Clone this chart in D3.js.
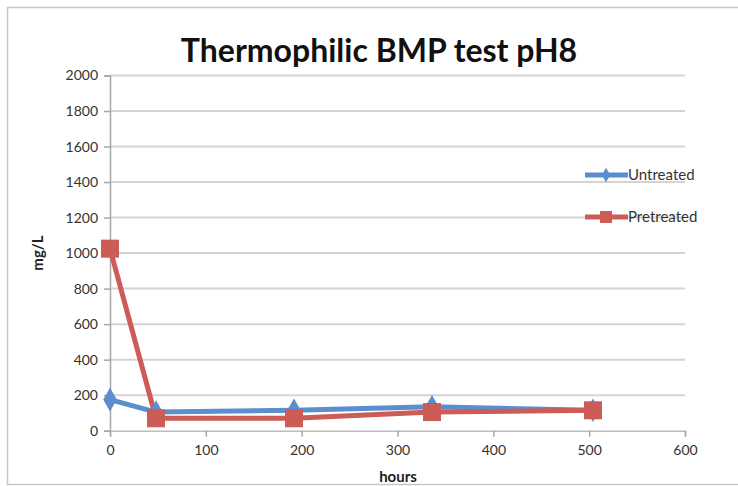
<!DOCTYPE html>
<html><head><meta charset="utf-8">
<script src="https://cdn.jsdelivr.net/npm/d3@7"></script>
<style>body{margin:0;background:#fff;}svg{display:block;}</style>
</head><body>
<script>
const hours = [0, 48, 192, 336, 504];
const untreated = [175, 105, 115, 135, 115];
const pretreated = [1025, 70, 70, 105, 115];
const seriesNames = ["Untreated", "Pretreated"];
const xTicks = [0, 100, 200, 300, 400, 500, 600];
const yTicks = [0, 200, 400, 600, 800, 1000, 1200, 1400, 1600, 1800, 2000];

const W = 738, H = 486;
const svg = d3.select("body").append("svg").attr("width", W).attr("height", H);
svg.append("rect").attr("x", 7.5).attr("y", 7.5).attr("width", W).attr("height", H - 9)
  .attr("fill", "#fff").attr("stroke", "#c8c8c8").attr("stroke-width", 1.5);

const x = d3.scaleLinear().domain([0, 600]).range([110, 685]);
const y = d3.scaleLinear().domain([0, 2000]).range([430.7, 75.5]);
const font = "Lato, 'Open Sans', sans-serif";

// gridlines
svg.append("g").selectAll("line").data(yTicks.filter(d => d > 0)).join("line")
  .attr("x1", x(0)).attr("x2", x(600)).attr("y1", d => y(d)).attr("y2", d => y(d))
  .attr("stroke", "#d4d4d4").attr("stroke-width", 2);

const yAxis = svg.append("g").attr("transform", `translate(${x(0)},0)`)
  .call(d3.axisLeft(y).tickValues(yTicks).tickFormat(d3.format("d")).tickSize(6).tickPadding(6));
const xAxis = svg.append("g").attr("transform", `translate(0,${y(0)})`)
  .call(d3.axisBottom(x).tickValues(xTicks).tickFormat(d3.format("d")).tickSize(6).tickPadding(8));
[yAxis, xAxis].forEach(a => {
  a.selectAll("path,line").attr("stroke", "#a6a6a6").attr("stroke-width", 1.5);
  a.selectAll("text").attr("font-family", font).attr("font-size", 14).attr("fill", "#333");
});
xAxis.select(".domain").attr("stroke", "#bdbdbd");

const colors = ["#5a8ecf", "#cd5b56"];
const data = [untreated, pretreated];
const line = d3.line().x((d, i) => x(hours[i])).y(d => y(d));

data.forEach((vals, s) => {
  svg.append("path").datum(vals).attr("d", line).attr("fill", "none")
    .attr("stroke", colors[s]).attr("stroke-width", 5).attr("stroke-linejoin", "round");
});
// markers
const diamond = d3.symbol().type(d3.symbolDiamond).size(160);
svg.append("g").selectAll("path").data(untreated).join("path")
  .attr("d", diamond).attr("transform", (d, i) => `translate(${x(hours[i])},${y(d)})`)
  .attr("fill", colors[0]);
svg.append("g").selectAll("rect").data(pretreated).join("rect")
  .attr("x", (d, i) => x(hours[i]) - 9).attr("y", d => y(d) - 9)
  .attr("width", 18).attr("height", 18).attr("fill", colors[1]);

// legend
const ly = [175, 217];
seriesNames.forEach((n, s) => {
  const g = svg.append("g");
  g.append("line").attr("x1", 585).attr("x2", 628).attr("y1", ly[s]).attr("y2", ly[s])
    .attr("stroke", colors[s]).attr("stroke-width", 5);
  if (s === 0) {
    g.append("path").attr("d", d3.symbol().type(d3.symbolDiamond).size(60)())
      .attr("transform", `translate(606,${ly[s]})`).attr("fill", colors[0]);
  } else {
    g.append("rect").attr("x", 600).attr("y", ly[s] - 6).attr("width", 12).attr("height", 12).attr("fill", colors[1]);
  }
  g.append("text").attr("x", 628).attr("y", ly[s] + 5).text(n)
    .attr("font-family", font).attr("font-size", 15).attr("fill", "#333");
});

svg.append("text").attr("x", 379).attr("y", 62).attr("text-anchor", "middle")
  .attr("font-family", font).attr("font-weight", "bold").attr("font-size", 32).attr("fill", "#111")
  .text("Thermophilic BMP test pH8");
svg.append("text").attr("x", 398).attr("y", 482).attr("text-anchor", "middle")
  .attr("font-family", font).attr("font-weight", "bold").attr("font-size", 15).attr("fill", "#222")
  .text("hours");
svg.append("text").attr("transform", "translate(43,253) rotate(-90)").attr("text-anchor", "middle")
  .attr("font-family", font).attr("font-weight", "bold").attr("font-size", 15).attr("fill", "#222")
  .text("mg/L");
</script>
</body></html>
